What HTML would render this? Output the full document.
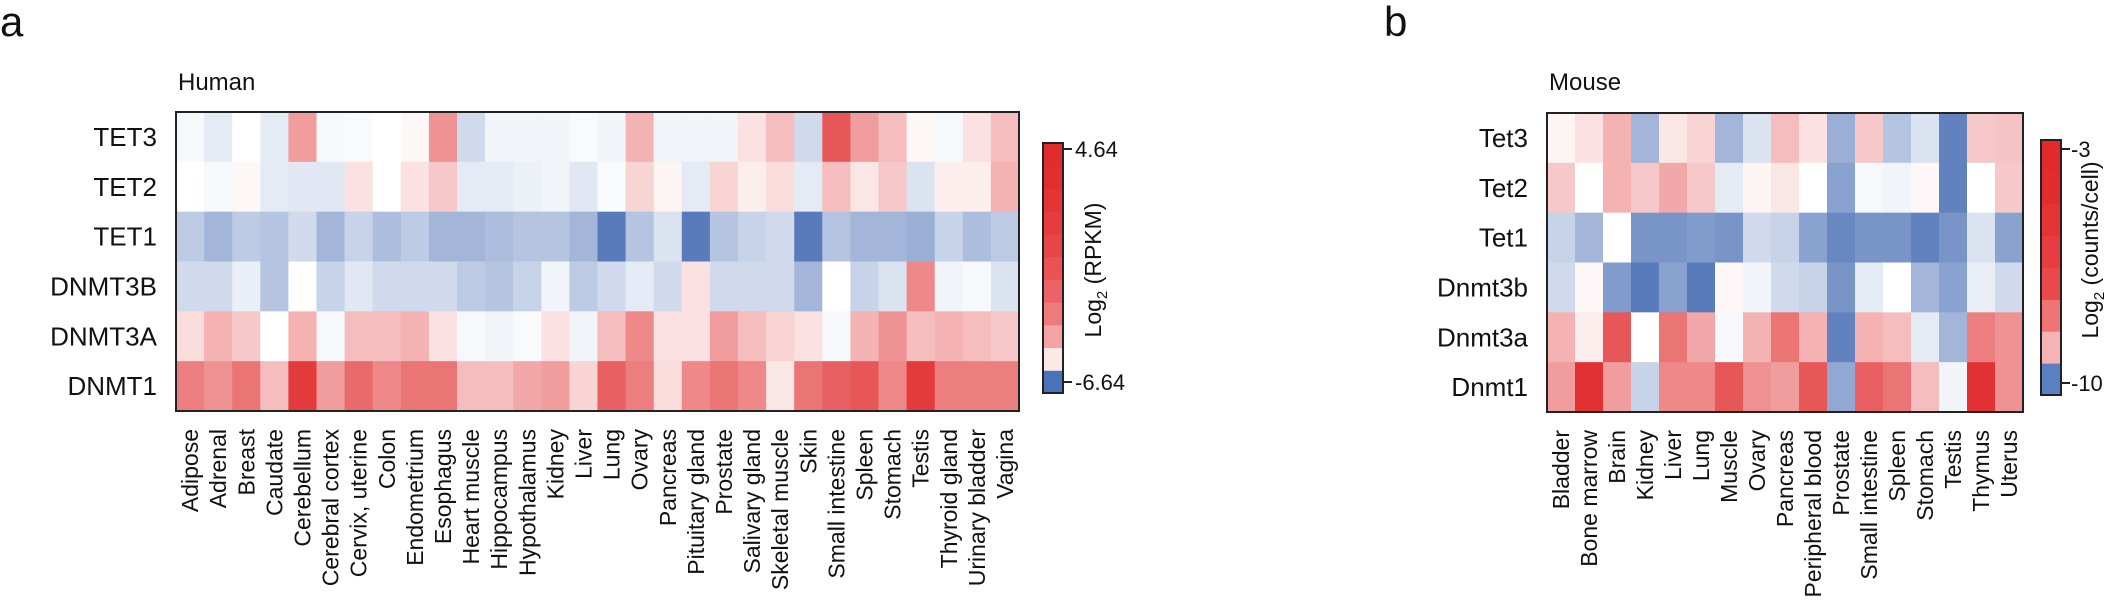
<!DOCTYPE html>
<html><head><meta charset="utf-8">
<style>
html,body{margin:0;padding:0;background:#fff;width:2114px;height:603px;overflow:hidden}
svg{display:block;font-family:"Liberation Sans",Arial,sans-serif}
</style></head>
<body>
<svg id="s" width="2114" height="603" xmlns="http://www.w3.org/2000/svg">
<rect width="2114" height="603" fill="#fff"/>
<text x="0" y="36" font-size="42" fill="#111">a</text>
<text x="1384" y="36" font-size="42" fill="#111">b</text>
<text x="178" y="90" font-size="24" fill="#111">Human</text>
<text x="1549" y="90" font-size="24" fill="#111">Mouse</text>
<g id="hm"></g>
<g id="mm"></g>
<g id="hcb"></g>
<rect x="1043" y="143" width="20" height="250" fill="none" stroke="#222" stroke-width="2"/>
<line x1="1063" y1="149" x2="1072" y2="149" stroke="#222" stroke-width="2"/>
<line x1="1063" y1="382" x2="1072" y2="382" stroke="#222" stroke-width="2"/>
<text x="1075" y="157" font-size="22" fill="#111">4.64</text>
<text x="1075" y="390" font-size="22" fill="#111">-6.64</text>
<text transform="translate(1101,270) rotate(-90)" text-anchor="middle" font-size="23" fill="#111">Log<tspan font-size="15" dy="6">2</tspan><tspan dy="-6"> (RPKM)</tspan></text>
<g id="mcb"></g>
<rect x="2041" y="140" width="20" height="255" fill="none" stroke="#222" stroke-width="2"/>
<line x1="2061" y1="149" x2="2070" y2="149" stroke="#222" stroke-width="2"/>
<line x1="2061" y1="383" x2="2070" y2="383" stroke="#222" stroke-width="2"/>
<text x="2071" y="157" font-size="22" fill="#111">-3</text>
<text x="2071" y="391" font-size="22" fill="#111">-10</text>
<text transform="translate(2098,250) rotate(-90)" text-anchor="middle" font-size="23" fill="#111">Log<tspan font-size="15" dy="6">2</tspan><tspan dy="-6"> (counts/cell)</tspan></text>
</svg>
<script>
var NS="http://www.w3.org/2000/svg";
function col(v){
  var r,g,b,s=v<0?-1:1;v=Math.min(1,Math.pow(Math.abs(v),0.85));
  if(s>0){r=255+(224-255)*v;g=255+(40-255)*v;b=255+(42-255)*v;}
  else{r=255+(74-255)*v;g=255+(111-255)*v;b=255+(181-255)*v;}
  return "rgb("+Math.round(r)+","+Math.round(g)+","+Math.round(b)+")";
}
function el(p,t,a,txt){var e=document.createElementNS(NS,t);for(var k in a)e.setAttribute(k,a[k]);if(txt!=null)e.textContent=txt;p.appendChild(e);return e;}
function heat(gid,x0,x1,y0,y1,rows,cols,data){
  var g=document.getElementById(gid);
  var cw=(x1-x0)/cols.length,rh=(y1-y0)/rows.length;
  for(var i=0;i<rows.length;i++){
    for(var j=0;j<cols.length;j++){
      el(g,"rect",{x:x0+j*cw,y:y0+i*rh,width:cw+0.6,height:rh+0.6,fill:col(data[i][j])});
    }
    el(g,"text",{x:x0-19,y:y0+i*rh+rh/2+9,"text-anchor":"end","font-size":"26",fill:"#111"},rows[i]);
  }
  el(g,"rect",{x:x0,y:y0,width:x1-x0,height:y1-y0,fill:"none",stroke:"#222","stroke-width":"2"});
  for(var j=0;j<cols.length;j++){
    var cx=x0+j*cw+cw/2+8;
    el(g,"text",{transform:"translate("+cx+","+(y1+18)+") rotate(-90)","text-anchor":"end","font-size":"23",fill:"#111"},cols[j]);
  }
}
heat("hm",176,1019,112,411,["TET3","TET2","TET1","DNMT3B","DNMT3A","DNMT1"],
["Adipose","Adrenal","Breast","Caudate","Cerebellum","Cerebral cortex","Cervix, uterine","Colon","Endometrium","Esophagus","Heart muscle","Hippocampus","Hypothalamus","Kidney","Liver","Lung","Ovary","Pancreas","Pituitary gland","Prostate","Salivary gland","Skeletal muscle","Skin","Small intestine","Spleen","Stomach","Testis","Thyroid gland","Urinary bladder","Vagina"],
[[-0.03,-0.1,0,-0.1,0.4,-0.03,-0.02,0,0.02,0.45,-0.2,-0.05,-0.05,-0.05,-0.02,-0.05,0.3,-0.05,-0.05,-0.05,0.1,0.25,-0.2,0.75,0.4,0.25,0.02,-0.03,0.1,0.25],
[0,-0.03,0.02,-0.1,-0.12,-0.12,0.1,0,0.1,0.2,-0.1,-0.1,-0.07,-0.05,-0.12,-0.02,0.15,0.03,-0.1,0.15,0.05,0.12,-0.1,0.25,0.08,0.2,-0.15,0.05,0.05,0.3],
[-0.3,-0.45,-0.3,-0.35,-0.2,-0.45,-0.25,-0.4,-0.3,-0.45,-0.45,-0.4,-0.35,-0.35,-0.45,-0.9,-0.35,-0.15,-0.9,-0.35,-0.25,-0.2,-0.9,-0.35,-0.45,-0.45,-0.5,-0.25,-0.4,-0.3],
[-0.2,-0.2,-0.08,-0.35,0,-0.25,-0.12,-0.2,-0.2,-0.2,-0.3,-0.35,-0.25,-0.05,-0.3,-0.2,-0.1,-0.2,0.1,-0.2,-0.2,-0.2,-0.45,0,-0.25,-0.15,0.5,-0.05,-0.03,-0.15],
[0.12,0.3,0.2,0,0.3,-0.03,0.25,0.25,0.3,0.1,-0.03,-0.05,-0.02,0.1,-0.05,0.25,0.5,0.1,0.1,0.4,0.25,0.15,0.1,-0.03,0.3,0.45,0.25,0.3,0.25,0.2],
[0.55,0.45,0.6,0.25,0.9,0.4,0.65,0.5,0.6,0.6,0.25,0.25,0.35,0.4,0.15,0.7,0.55,0.12,0.5,0.6,0.5,0.08,0.6,0.7,0.75,0.5,0.9,0.55,0.55,0.55]]);
heat("mm",1547,2023,113,412,["Tet3","Tet2","Tet1","Dnmt3b","Dnmt3a","Dnmt1"],
["Bladder","Bone marrow","Brain","Kidney","Liver","Lung","Muscle","Ovary","Pancreas","Peripheral blood","Prostate","Small intestine","Spleen","Stomach","Testis","Thymus","Uterus"],
[[0.03,0.1,0.3,-0.45,0.08,0.15,-0.45,-0.15,0.25,0.1,-0.5,0.2,-0.35,-0.15,-0.85,0.2,0.22],
[0.2,0,0.3,0.2,0.35,0.2,-0.1,0.03,0.08,0,-0.6,-0.03,-0.05,0.02,-0.85,0,0.2],
[-0.25,-0.45,0,-0.7,-0.7,-0.65,-0.7,-0.2,-0.25,-0.6,-0.8,-0.7,-0.7,-0.85,-0.7,-0.15,-0.6],
[-0.2,0.02,-0.65,-0.9,-0.6,-0.9,0.02,-0.05,-0.2,-0.25,-0.7,-0.1,0,-0.45,-0.6,-0.08,-0.2],
[0.3,0.05,0.75,0,0.6,0.35,-0.03,0.3,0.6,0.3,-0.85,0.3,0.25,-0.1,-0.45,0.55,0.45],
[0.4,0.95,0.4,-0.25,0.5,0.5,0.75,0.45,0.4,0.75,-0.55,0.7,0.6,0.25,-0.05,0.95,0.45]]);
function cbar(gid,x,y0,y1,cols){
  var g=document.getElementById(gid),h=(y1-y0)/cols.length;
  for(var i=0;i<cols.length;i++)el(g,"rect",{x:x,y:y1-(i+1)*h,width:20,height:h+0.5,fill:cols[i]});
}
cbar("hcb",1043,143,393,["#4a72b8","#fbe9e8","#f4a3a5","#ef7a7c","#ec6266","#ea5256","#e84548","#e63c3f","#e43436","#e32e30","#e22b2d"]);
cbar("mcb",2041,140,395,["#5b80c2","#f6b3b5","#ee7476","#e9494c","#e73d40","#e43436","#e32c2e","#e22a2c"]);
</script>
</body></html>
